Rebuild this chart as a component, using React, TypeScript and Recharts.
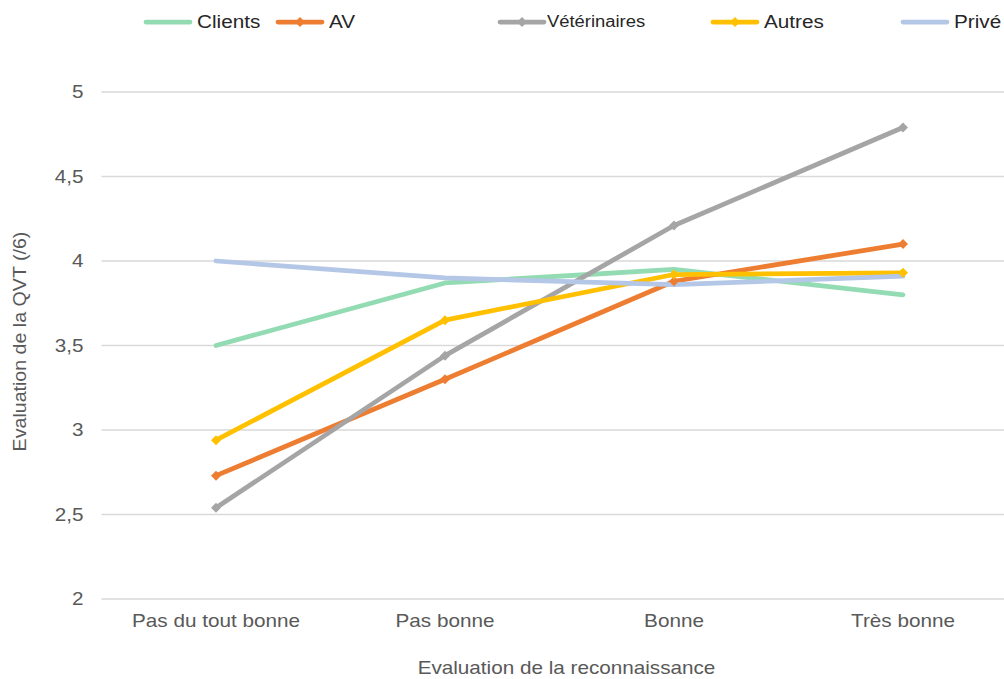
import React from 'react';
import { LineChart, Line, XAxis, YAxis, CartesianGrid, Label } from 'recharts';

const categories = ['Pas du tout bonne', 'Pas bonne', 'Bonne', 'Très bonne'];
const clients = [3.5, 3.87, 3.95, 3.8];
const av = [2.73, 3.3, 3.88, 4.1];
const veterinaires = [2.54, 3.44, 4.21, 4.79];
const autres = [2.94, 3.65, 3.92, 3.93];
const prive = [4.0, 3.9, 3.86, 3.91];
const yTicks = [2, 2.5, 3, 3.5, 4, 4.5, 5];

const series = [
  { key: 'Clients', values: clients, color: '#93DBB3', marker: false },
  { key: 'AV', values: av, color: '#ED7D31', marker: true },
  { key: 'Vétérinaires', values: veterinaires, color: '#A5A5A5', marker: true },
  { key: 'Autres', values: autres, color: '#FFC000', marker: true },
  { key: 'Privé', values: prive, color: '#B4C7E7', marker: false },
];

const data = categories.map((c, i) => {
  const row: Record<string, string | number> = { name: c };
  series.forEach(s => { row[s.key] = s.values[i]; });
  return row;
});

// legend item x positions (Excel spreads them unevenly)
const legendLeft = [143, 275, 497, 710, 900];

const FONT = '"Liberation Sans", Arial, sans-serif';
const GREY = '#595959';
// the source picture is stretched sideways a little
const SX = 1.15;

const Diamond = (props: any) => {
  const { cx, cy, stroke } = props;
  if (cx == null || cy == null) return null;
  const r = 5;
  return <polygon points={`${cx},${cy - r} ${cx + r},${cy} ${cx},${cy + r} ${cx - r},${cy}`} fill={stroke} />;
};

const XTick = (props: any) => {
  const { x, y, payload } = props;
  return (
    <text transform={`translate(${x},${y}) scale(${SX},1)`} textAnchor="middle" dy="0.71em" fill={GREY} fontSize={18} fontFamily={FONT}>
      {payload.value}
    </text>
  );
};

const YTick = (props: any) => {
  const { x, y, payload } = props;
  return (
    <text transform={`translate(${x},${y}) scale(${SX},1)`} textAnchor="end" dy="0.355em" fill={GREY} fontSize={18} fontFamily={FONT}>
      {String(payload.value).replace('.', ',')}
    </text>
  );
};

const XLabel = (props: any) => {
  const { viewBox } = props;
  const cx = viewBox.x + viewBox.width / 2 + 7;
  return (
    <text transform={`translate(${cx},${viewBox.y + 75}) scale(${SX},1)`} textAnchor="middle" fill={GREY} fontSize={18} fontFamily={FONT}>
      Evaluation de la reconnaissance
    </text>
  );
};

const YLabel = (props: any) => {
  const { viewBox } = props;
  const cy = viewBox.y + viewBox.height / 2 - 4;
  return (
    <text transform={`translate(20,${cy}) rotate(-90) scale(1.09,1)`} textAnchor="middle" dy="0.355em" fill={GREY} fontSize={18} fontFamily={FONT}>
      Evaluation de la QVT (/6)
    </text>
  );
};

const App: React.FC = () => {
  return (
    <div style={{ position: 'absolute', left: 0, top: 0, width: 1004, height: 679, overflow: 'hidden', background: '#fff', fontFamily: FONT }}>
      <LineChart width={1030} height={679} data={data} margin={{ top: 92, right: 12.5, bottom: 0, left: 0.5 }}>
        <CartesianGrid vertical={false} stroke="#d9d9d9" strokeWidth={1.5} />
        <XAxis
          dataKey="name"
          axisLine={false}
          tickLine={false}
          tickSize={6}
          tickMargin={9}
          height={80}
          padding={{ left: 114.5, right: 114.5 }}
          tick={<XTick />}
        >
          <Label content={<XLabel />} />
        </XAxis>
        <YAxis
          domain={[2, 5]}
          ticks={yTicks}
          width={101}
          axisLine={false}
          tickLine={false}
          tickSize={6}
          tickMargin={12}
          tick={<YTick />}
        >
          <Label content={<YLabel />} />
        </YAxis>
        {series.map(s => (
          <Line
            key={s.key}
            dataKey={s.key}
            type="linear"
            stroke={s.color}
            strokeWidth={4.75}
            strokeLinecap="round"
            strokeLinejoin="round"
            dot={s.marker ? <Diamond /> : false}
            activeDot={false}
            isAnimationActive={false}
          />
        ))}
      </LineChart>
      <div style={{ position: 'absolute', top: 10, left: 0, width: 1004, height: 26 }}>
        {series.map((s, i) => (
          <div key={s.key} style={{ position: 'absolute', left: legendLeft[i], top: 0, display: 'flex', alignItems: 'center', whiteSpace: 'nowrap' }}>
            <svg width={50} height={24}>
              <line x1={3} y1={12} x2={47} y2={12} stroke={s.color} strokeWidth={4.75} strokeLinecap="round" />
              {s.marker && <polygon points="25,7 30,12 25,17 20,12" fill={s.color} />}
            </svg>
            <span style={{ display: 'inline-block', transform: `scaleX(${SX})`, transformOrigin: 'left center', fontSize: s.key === 'Vétérinaires' ? 16 : 18, color: '#262626', marginLeft: s.key === 'Vétérinaires' ? 0 : 4 }}>{s.key}</span>
          </div>
        ))}
      </div>
    </div>
  );
};

export default App;
